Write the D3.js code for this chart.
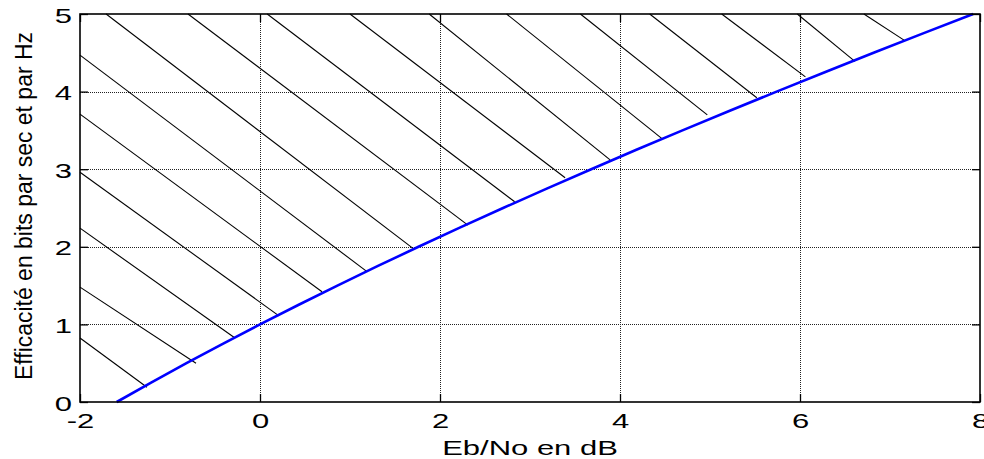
<!DOCTYPE html>
<html>
<head>
<meta charset="utf-8">
<script src="https://cdn.jsdelivr.net/npm/d3@7"></script>
<style>
  body { margin: 0; background: #fff; }
  svg { display: block; }
</style>
</head>
<body>
<svg id="chart" width="984" height="459"></svg>
<script>
// Axis ticks
const xTicks = [-2, 0, 2, 4, 6, 8];
const yTicks = [0, 1, 2, 3, 4, 5];

// Shannon limit: minimum Eb/No (dB) for each spectral efficiency (bit/s/Hz)
const ebnoDb     = [-1.592, -1.210, -0.817, -0.414, 0.000, 0.425, 0.860, 1.305, 1.761, 2.226, 2.701,
                    3.186, 3.680, 4.182, 4.694, 5.213, 5.740, 6.275, 6.818, 7.368, 7.924];
const efficiency = [0.00, 0.25, 0.50, 0.75, 1.00, 1.25, 1.50, 1.75, 2.00, 2.25, 2.50,
                    2.75, 3.00, 3.25, 3.50, 3.75, 4.00, 4.25, 4.50, 4.75, 5.00];

// Hatching of the unreachable region: each stroke from (x0,y0) to (x1,y1)
const hatchX0 = [-2, -2, -2, -2, -2, -2, -1.71, -0.80, 0.08, 1.00, 1.88, 2.74, 3.56, 4.33, 5.13, 5.97, 6.71];
const hatchY0 = [0.825, 1.48, 2.24, 2.96, 3.71, 4.47, 5, 5, 5, 5, 5, 5, 5, 5, 5, 5, 5];
const hatchX1 = [-1.256, -0.711, -0.278, 0.211, 0.689, 1.189, 1.70, 2.31, 2.83, 3.39, 3.89, 4.47, 4.97, 5.52, 6.06, 6.61, 7.16];
const hatchY1 = [0.19, 0.50, 0.825, 1.11, 1.42, 1.68, 1.98, 2.28, 2.58, 2.89, 3.12, 3.39, 3.70, 3.92, 4.19, 4.39, 4.66];

const xTitle = "Eb/No en dB";
const yTitle = "Efficacité en bits par sec et par Hz";

const plotLeft = 80, plotRight = 980, plotTop = 14, plotBottom = 402;
const stretch = 1.55;        // wide lettering of the horizontal labels
const font = "'Liberation Sans', Arial, Helvetica, sans-serif";

const svg = d3.select("#chart");
const x = d3.scaleLinear().domain([-2, 8]).range([plotLeft, plotRight]);
const y = d3.scaleLinear().domain([0, 5]).range([plotBottom, plotTop]);

// Dotted grid
const grid = svg.append("g")
  .attr("stroke", "#222").attr("stroke-width", 1).attr("stroke-dasharray", "1,1");
grid.selectAll("line.gx").data(xTicks.slice(1, -1)).join("line")
  .attr("class", "gx")
  .attr("x1", d => Math.round(x(d)) + 0.5).attr("x2", d => Math.round(x(d)) + 0.5)
  .attr("y1", plotTop).attr("y2", plotBottom);
grid.selectAll("line.gy").data(yTicks.slice(1, -1)).join("line")
  .attr("class", "gy")
  .attr("y1", d => Math.round(y(d)) + 0.5).attr("y2", d => Math.round(y(d)) + 0.5)
  .attr("x1", plotLeft).attr("x2", plotRight);

// Hatching strokes
svg.append("g").attr("stroke", "#000").attr("stroke-width", 1.1)
  .selectAll("line").data(d3.range(hatchX0.length)).join("line")
  .attr("x1", i => x(hatchX0[i])).attr("y1", i => y(hatchY0[i]))
  .attr("x2", i => x(hatchX1[i])).attr("y2", i => y(hatchY1[i]));

// Limit curve
const pts = ebnoDb.map((v, i) => [v, efficiency[i]]);
svg.append("path").datum(pts)
  .attr("fill", "none").attr("stroke", "#0000ff").attr("stroke-width", 2.6)
  .attr("stroke-linejoin", "round")
  .attr("d", d3.line().x(d => x(d[0])).y(d => y(d[1])));

// Box with inward ticks on all four sides
const tickLen = 8;
const plain = d => String(d);   // keeps the ASCII hyphen for negatives
const gBottom = svg.append("g").attr("transform", `translate(0,${plotBottom})`)
  .call(d3.axisBottom(x).tickValues(xTicks).tickSizeInner(-tickLen).tickSizeOuter(0).tickFormat(plain));
const gLeft = svg.append("g").attr("transform", `translate(${plotLeft},0)`)
  .call(d3.axisLeft(y).tickValues(yTicks).tickSizeInner(-tickLen).tickSizeOuter(0).tickFormat(plain));
const gTop = svg.append("g").attr("transform", `translate(0,${plotTop})`)
  .call(d3.axisTop(x).tickValues(xTicks).tickSizeInner(-tickLen).tickSizeOuter(0).tickFormat(""));
const gRight = svg.append("g").attr("transform", `translate(${plotRight},0)`)
  .call(d3.axisRight(y).tickValues(yTicks).tickSizeInner(-tickLen).tickSizeOuter(0).tickFormat(""));

[gBottom, gLeft, gTop, gRight].forEach(g => {
  g.select(".domain").remove();
  g.selectAll(".tick line").attr("stroke", "#000").attr("stroke-width", 1.3);
});

svg.append("rect")
  .attr("x", plotLeft).attr("y", plotTop)
  .attr("width", plotRight - plotLeft).attr("height", plotBottom - plotTop)
  .attr("fill", "none").attr("stroke", "#000").attr("stroke-width", 1.6);

gBottom.selectAll(".tick text")
  .attr("y", 26).attr("dy", null)
  .attr("font-family", font).attr("font-size", 20).attr("fill", "#000")
  .attr("transform", `scale(${stretch},1)`);

gLeft.selectAll(".tick text")
  .attr("x", -8 / stretch).attr("dy", null).attr("y", 8)
  .attr("text-anchor", "end")
  .attr("font-family", font).attr("font-size", 20).attr("fill", "#000")
  .attr("transform", `scale(${stretch},1)`);

// Axis titles
svg.append("text")
  .attr("transform", `translate(${(plotLeft + plotRight) / 2},455) scale(${stretch},1)`)
  .attr("text-anchor", "middle")
  .attr("font-family", font).attr("font-size", 20).attr("fill", "#000")
  .text(xTitle);

svg.append("text")
  .attr("transform", `translate(32,206) rotate(-90)`)
  .attr("text-anchor", "middle")
  .attr("font-family", font).attr("font-size", 23).attr("fill", "#000")
  .attr("textLength", 348).attr("lengthAdjust", "spacingAndGlyphs")
  .text(yTitle);
</script>
</body>
</html>
